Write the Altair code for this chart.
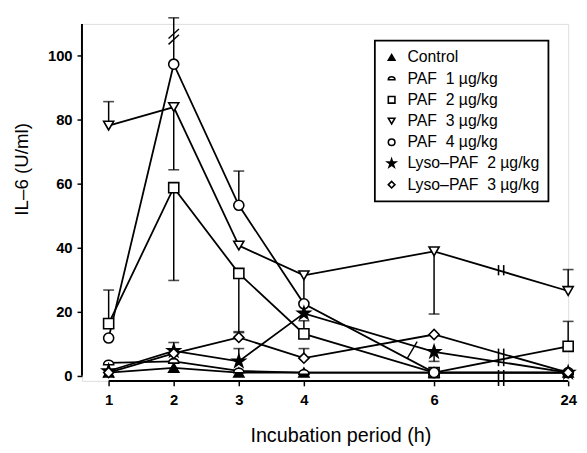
import altair as alt
import pandas as pd

# ---- data ----
time_labels = ["1", "2", "3", "4", "6", "24"]
x_pos = [1, 2, 3, 4, 6, 8.06]          # 24 h is drawn after an axis break

series = [
    "Control",
    "PAF\u00a0 1 µg/kg",
    "PAF\u00a0 2 µg/kg",
    "PAF\u00a0 3 µg/kg",
    "PAF\u00a0 4 µg/kg",
    "Lyso–PAF\u00a0 2 µg/kg",
    "Lyso–PAF\u00a0 3 µg/kg",
]
control = [1.0, 2.5, 1.0, 1.0, 1.0, 1.0]
paf1 = [4.0, 4.5, 1.5, 1.0, 1.0, 1.0]
paf2 = [16.3, 58.8, 32.0, 13.1, 1.0, 9.2]
paf3 = [78.2, 84.0, 40.7, 31.4, 38.9, 26.5]
paf4 = [11.8, 97.4, 53.3, 22.5, 1.0, 1.0]
lyso2 = [1.5, 7.8, 4.5, 19.5, 7.5, 1.0]
lyso3 = [1.0, 7.0, 12.0, 5.5, 12.9, 1.0]
values = [control, paf1, paf2, paf3, paf4, lyso2, lyso3]

# error bars: (series index, time index, end value)
err_series = [2, 2, 2, 2, 2, 3, 3, 3, 3, 3, 4, 4, 5, 5, 5, 6, 6]
err_time = [0, 1, 2, 3, 5, 0, 1, 3, 4, 5, 1, 2, 1, 2, 4, 2, 3]
err_end = [26.8, 29.8, 13.5, 17.2, 17.0, 85.7, 64.4, 23.0, 19.3, 33.2,
           111.9, 64.0, 10.4, 8.5, 4.5, 13.8, 8.5]

y_ticks = [0, 10, 20, 30, 40, 50, 60, 70, 80, 90, 100]

star = ("M0,-1.3L0.29,-0.4L1.236,-0.402L0.47,0.153L0.764,1.052L0,0.494"
        "L-0.764,1.052L-0.47,0.153L-1.236,-0.402L-0.29,-0.4Z")
dome = "M-1,0.35C-1,-0.85,1,-0.85,1,0.35Z"
shapes = ["triangle-up", dome, "square", "triangle-down", "circle", star, "diamond"]
fills = ["black", "white", "white", "white", "white", "black", "white"]
strokes = ["black"] * 7

# ---- tables ----
rows = []
for s, vals in zip(series, values):
    for p, v in zip(x_pos, vals):
        rows.append({"series": s, "pos": p, "value": v})
df = pd.DataFrame(rows)

err_df = pd.DataFrame({
    "series": [series[i] for i in err_series],
    "pos": [x_pos[t] for t in err_time],
    "value": [values[i][t] for i, t in zip(err_series, err_time)],
    "end": err_end,
})

X_MIN, X_MAX = 0.59, 8.06
Y_MIN, Y_MAX = -1.6, 110
FONT = "Liberation Sans"

xscale = alt.Scale(domain=[X_MIN, X_MAX], nice=False, zero=False)
yscale = alt.Scale(domain=[Y_MIN, Y_MAX], nice=False, zero=False)

label_expr = " : ".join(
    f"datum.value == {p} ? '{l}'" for p, l in zip(x_pos, time_labels)
) + " : ''"

X = alt.X("pos:Q", scale=xscale, axis=alt.Axis(
    values=x_pos, labelExpr=label_expr, title="Incubation period (h)",
    grid=False, domain=False, tickSize=5, tickWidth=1.5, tickColor="black",
    labelFont=FONT, labelFontSize=15, labelFontWeight="bold",
    labelColor="black", labelPadding=7, labelFlush=False, labelOverlap=False,
    titleFont=FONT, titleFontSize=20, titleFontWeight="normal",
    titleColor="black", titleX=262, titleY=61, titleBaseline="alphabetic",
    titleAnchor="start", titleAlign="center"))
Y = alt.Y("value:Q", scale=yscale, axis=alt.Axis(
    values=y_ticks, labelExpr="datum.value % 20 == 0 ? datum.label : ''",
    title="IL–6 (U/ml)", grid=False, domain=False, tickSize=5, tickWidth=1.5,
    tickColor="black", labelFont=FONT, labelFontSize=15,
    labelFontWeight="bold", labelColor="black", labelPadding=5,
    titleFont=FONT, titleFontSize=19, titleFontWeight="normal",
    titleColor="black", titleX=-61, titleY=147, titleAngle=270,
    titleAlign="center", titleBaseline="middle"))

base = alt.Chart(df)

axis_y_line = alt.Chart(pd.DataFrame({"x": [X_MIN], "y": [0], "y2": [110]})).mark_rule(
    color="black", strokeWidth=2).encode(
    x=alt.X("x:Q", scale=xscale), y=alt.Y("y:Q", scale=yscale), y2="y2:Q")
axis_x_line = alt.Chart(pd.DataFrame({"x": [1], "x2": [X_MAX], "y": [Y_MIN]})).mark_rule(
    color="black", strokeWidth=2).encode(
    x=alt.X("x:Q", scale=xscale), x2="x2:Q", y=alt.Y("y:Q", scale=yscale))

lines = base.mark_line(color="black", strokeWidth=1.8).encode(
    x=X, y=Y, detail="series:N", order="pos:Q")

err_rules = alt.Chart(err_df).mark_rule(color="black", strokeWidth=1.5).encode(
    x=alt.X("pos:Q", scale=xscale), y=alt.Y("value:Q", scale=yscale), y2="end:Q")
err_caps = alt.Chart(err_df).mark_tick(
    color="black", orient="horizontal", size=11, thickness=1.6).encode(
    x=alt.X("pos:Q", scale=xscale), y=alt.Y("end:Q", scale=yscale))

# axis / line break marks
brk = pd.DataFrame({
    "x": [6.99, 7.07, 6.99, 7.07, 6.99, 7.07],
    "y": [31.4, 31.4, 3.0, 3.0, -3.2, -3.2],
    "y2": [34.6, 34.6, 8.5, 8.5, 1.8, 1.8],
})
breaks = alt.Chart(brk).mark_rule(color="black", strokeWidth=1.6).encode(
    x=alt.X("x:Q", scale=xscale), y=alt.Y("y:Q", scale=yscale), y2="y2:Q")
slash = pd.DataFrame({"x": [1.92, 1.92, 5.59], "x2": [2.08, 2.08, 5.74],
                      "y": [103.6, 105.4, 5.5], "y2": [106.6, 108.4, 10.7]})
slashes = alt.Chart(slash).mark_rule(color="black", strokeWidth=1.4).encode(
    x=alt.X("x:Q", scale=xscale), x2="x2:Q",
    y=alt.Y("y:Q", scale=yscale), y2="y2:Q")

legend = alt.Legend(
    title=None, orient="none", legendX=297, legendY=17,
    fillColor="white", strokeColor="black", padding=9,
    labelFont=FONT, labelFontSize=16, labelColor="black",
    labelLimit=300, labelOffset=8, rowPadding=5.5, symbolSize=45,
    symbolStrokeWidth=1.6)

points = base.mark_point(filled=True, strokeWidth=1.6, size=105,
                         opacity=1).encode(
    x=X, y=Y,
    shape=alt.Shape("series:N", scale=alt.Scale(domain=series, range=shapes),
                    legend=legend),
    fill=alt.Fill("series:N", scale=alt.Scale(domain=series, range=fills),
                  legend=legend),
    stroke=alt.Stroke("series:N", scale=alt.Scale(domain=series, range=strokes),
                      legend=legend),
)

chart = alt.layer(
    axis_y_line, axis_x_line, lines, err_rules, err_caps, breaks, slashes, points
).properties(
    width=493, height=362, autosize="none",
    padding={"left": 75, "top": 13, "right": 11, "bottom": 70},
).configure_view(strokeWidth=0).configure(background="white").configure_legend(
    strokeWidth=1.8)

chart.save("out.html", embed_options={"renderer": "svg", "actions": False})
